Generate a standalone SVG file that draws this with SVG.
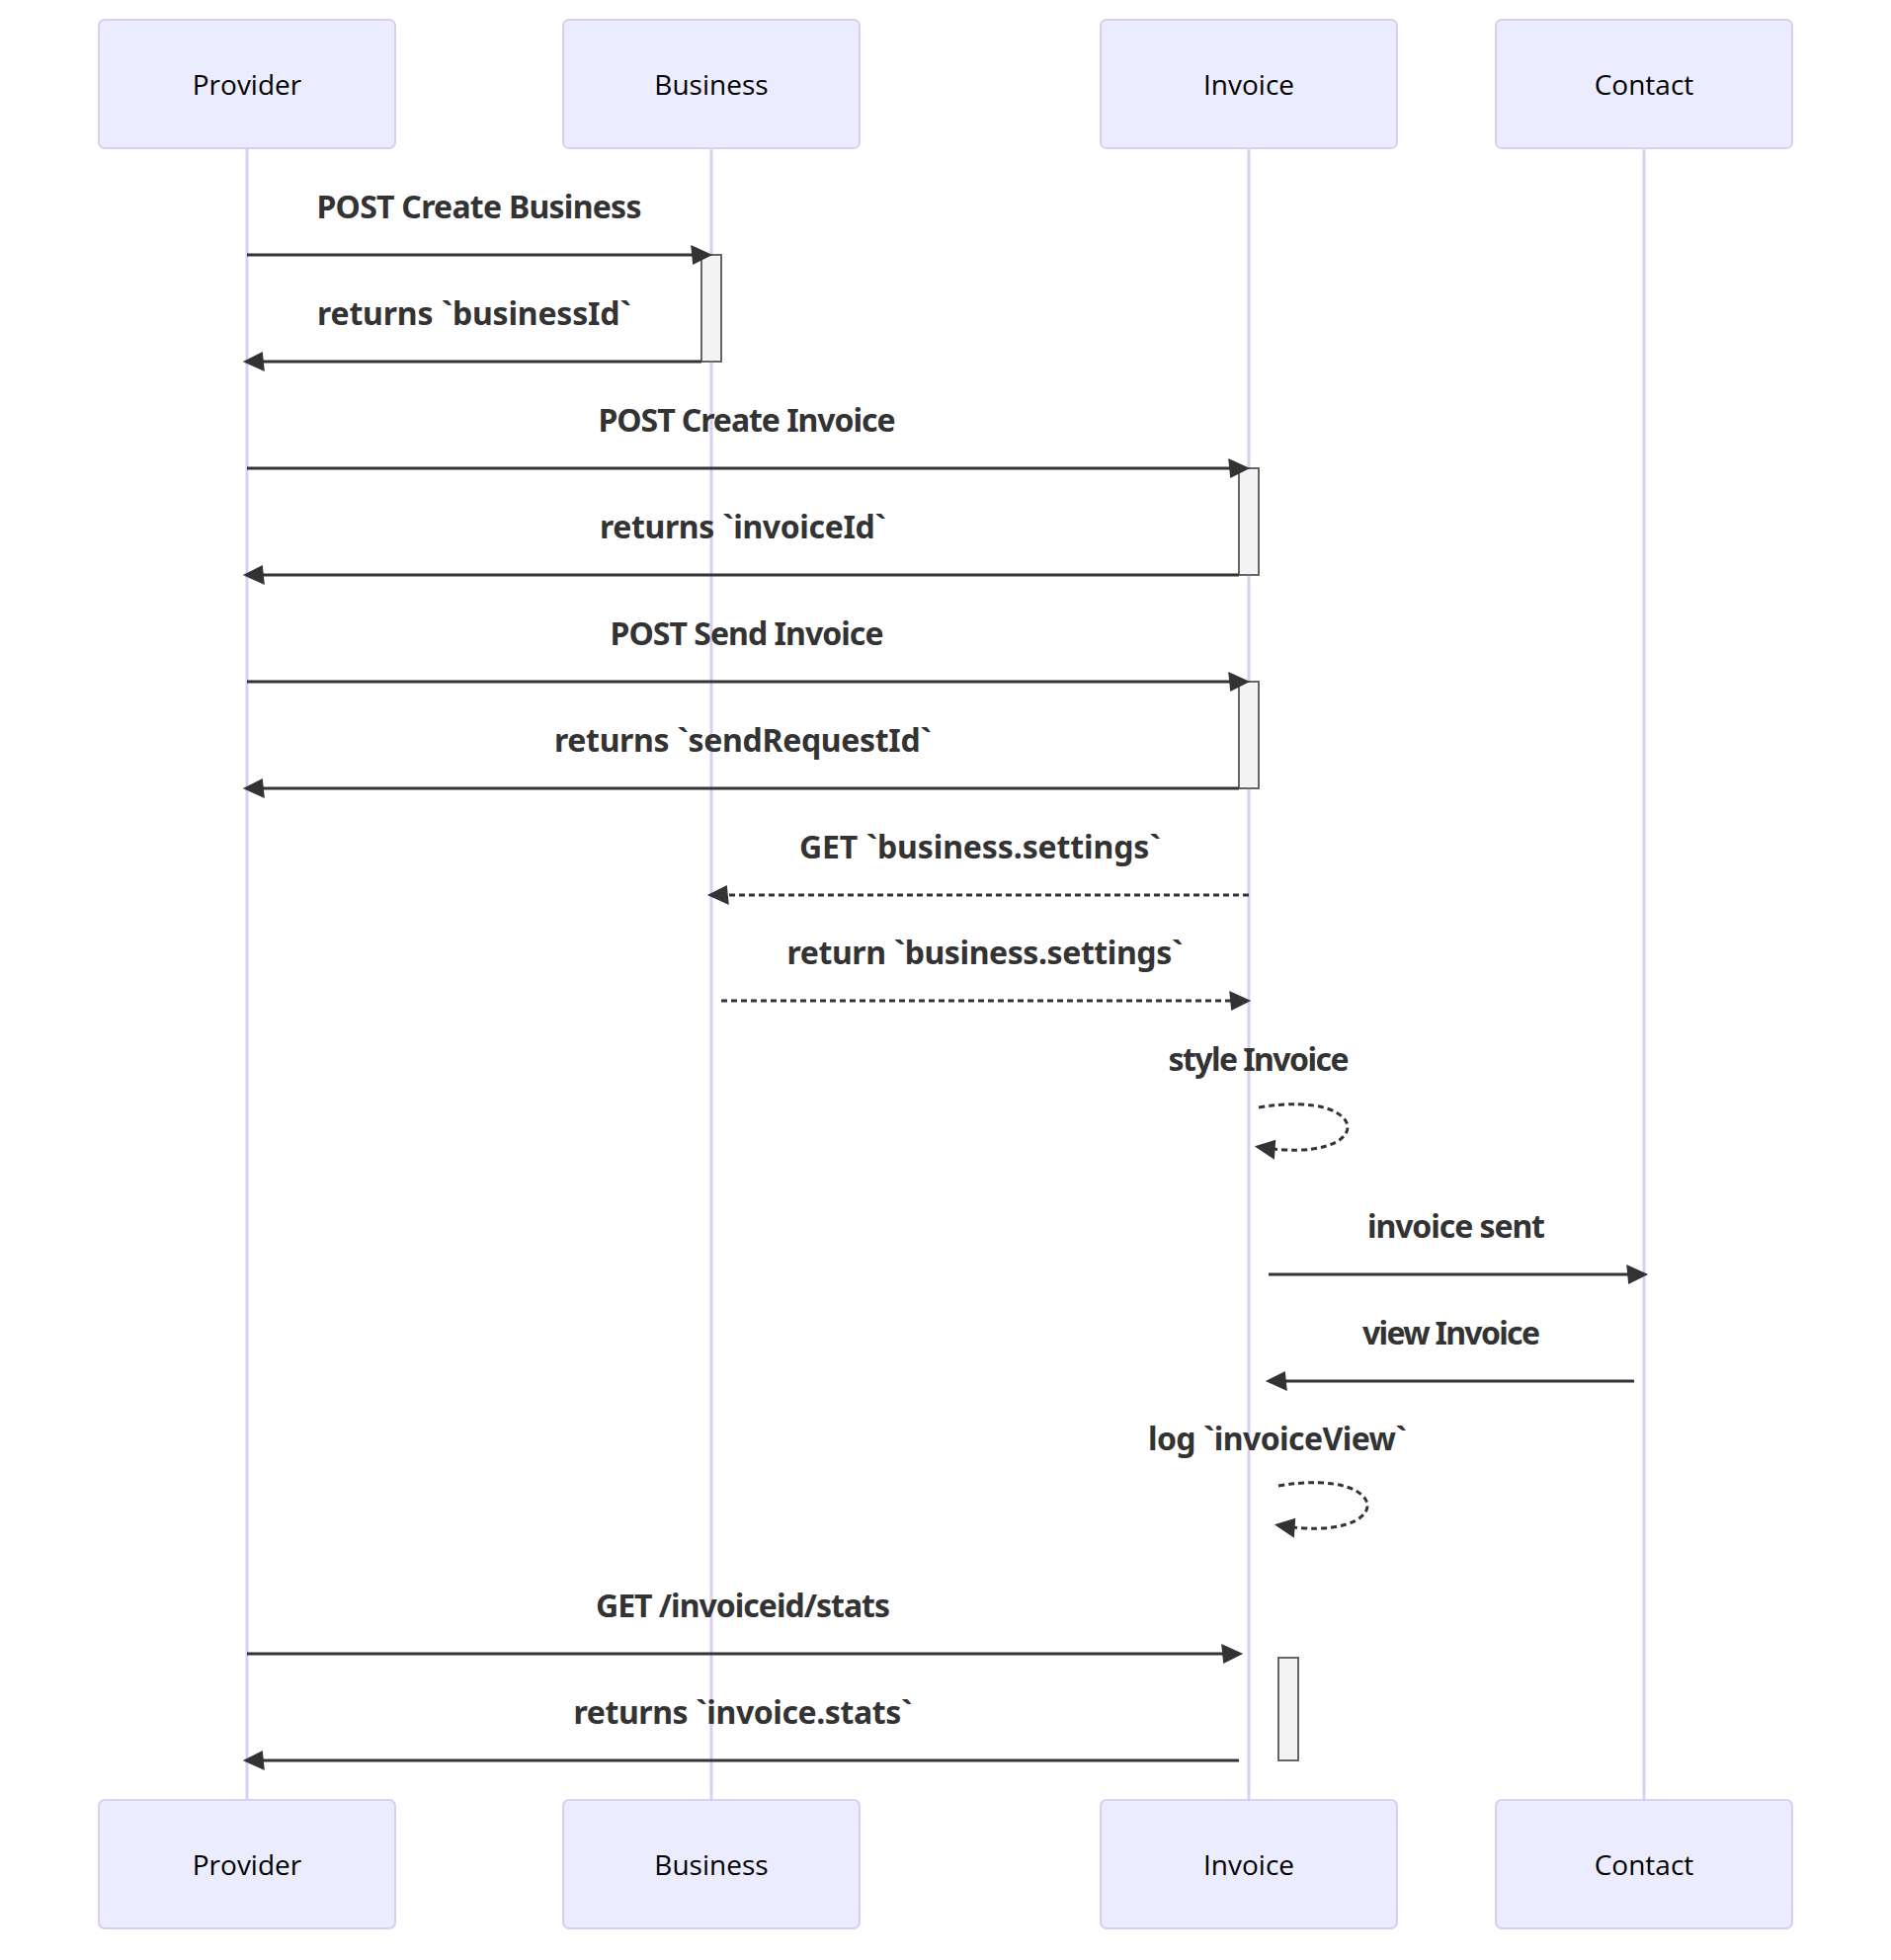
<svg xmlns="http://www.w3.org/2000/svg" width="1914" height="1984" viewBox="0 0 1914 1984">
<defs>
<marker id="arrow" markerUnits="userSpaceOnUse" markerWidth="24" markerHeight="24" refX="15.8" refY="10" orient="auto" overflow="visible">
<path d="M -2 0 L 20 10 L 0 20 z" fill="#333333"/>
</marker>
<style>
.actor{fill:#ECECFF;stroke:#DACEF3;stroke-width:2}
.actorText{font-family:"Open Sans","Noto Sans",sans-serif;font-size:28px;fill:#000;text-anchor:middle;dominant-baseline:central}
.lifeline{stroke:#DACEF3;stroke-width:3}
.msg{stroke:#333333;stroke-width:3;fill:none;marker-end:url(#arrow)}
.dotted{stroke-dasharray:6,4}
.label{font-family:"Noto Sans","Open Sans",sans-serif;font-size:32px;font-weight:bold;fill:#333333;text-anchor:middle}
.act{fill:#F4F4F4;stroke:#666666;stroke-width:2}
</style>
</defs>
<rect width="1914" height="1984" fill="#ffffff"/>
<g id="lifelines">
<line class="lifeline" x1="250" y1="150" x2="250" y2="1822"/>
<line class="lifeline" x1="720" y1="150" x2="720" y2="1822"/>
<line class="lifeline" x1="1264" y1="150" x2="1264" y2="1822"/>
<line class="lifeline" x1="1664" y1="150" x2="1664" y2="1822"/>
</g>
<g id="actor-provider">
<rect class="actor" x="100" y="20" width="300" height="130" rx="6"/>
<text class="actorText" x="250" y="85">Provider</text>
<rect class="actor" x="100" y="1822" width="300" height="130" rx="6"/>
<text class="actorText" x="250" y="1887">Provider</text>
</g>
<g id="actor-business">
<rect class="actor" x="570" y="20" width="300" height="130" rx="6"/>
<text class="actorText" x="720" y="85">Business</text>
<rect class="actor" x="570" y="1822" width="300" height="130" rx="6"/>
<text class="actorText" x="720" y="1887">Business</text>
</g>
<g id="actor-invoice">
<rect class="actor" x="1114" y="20" width="300" height="130" rx="6"/>
<text class="actorText" x="1264" y="85">Invoice</text>
<rect class="actor" x="1114" y="1822" width="300" height="130" rx="6"/>
<text class="actorText" x="1264" y="1887">Invoice</text>
</g>
<g id="actor-contact">
<rect class="actor" x="1514" y="20" width="300" height="130" rx="6"/>
<text class="actorText" x="1664" y="85">Contact</text>
<rect class="actor" x="1514" y="1822" width="300" height="130" rx="6"/>
<text class="actorText" x="1664" y="1887">Contact</text>
</g>
<g id="activations">
<rect class="act" x="710" y="258" width="20" height="108"/>
<rect class="act" x="1254" y="474" width="20" height="108"/>
<rect class="act" x="1254" y="690" width="20" height="108"/>
<rect class="act" x="1294" y="1678" width="20" height="104"/>
</g>
<g id="connectors">
<line class="msg" x1="250" y1="258" x2="717" y2="258"/>
<line class="msg" x1="710" y1="366" x2="250" y2="366"/>
<line class="msg" x1="250" y1="474" x2="1261" y2="474"/>
<line class="msg" x1="1254" y1="582" x2="250" y2="582"/>
<line class="msg" x1="250" y1="690" x2="1261" y2="690"/>
<line class="msg" x1="1254" y1="798" x2="250" y2="798"/>
<line class="msg dotted" x1="1264" y1="906" x2="720" y2="906"/>
<line class="msg dotted" x1="730" y1="1013" x2="1262" y2="1013"/>
<path class="msg dotted" d="M 1274 1121 C 1394 1101, 1394 1181, 1274 1161"/>
<line class="msg" x1="1284" y1="1290" x2="1664" y2="1290"/>
<line class="msg" x1="1654" y1="1398" x2="1285" y2="1398"/>
<path class="msg dotted" d="M 1294 1504 C 1414 1484, 1414 1564, 1294 1544"/>
<line class="msg" x1="250" y1="1674" x2="1254" y2="1674"/>
<line class="msg" x1="1254" y1="1782" x2="250" y2="1782"/>
</g>
<g id="labels">
<text class="label" x="485" y="221" textLength="329" lengthAdjust="spacing">POST Create Business</text>
<text class="label" x="480" y="329" textLength="318" lengthAdjust="spacing">returns `businessId`</text>
<text class="label" x="756" y="437" textLength="301" lengthAdjust="spacing">POST Create Invoice</text>
<text class="label" x="752" y="545" textLength="290" lengthAdjust="spacing">returns `invoiceId`</text>
<text class="label" x="756" y="653" textLength="277" lengthAdjust="spacing">POST Send Invoice</text>
<text class="label" x="752" y="761" textLength="382" lengthAdjust="spacing">returns `sendRequestId`</text>
<text class="label" x="992" y="869" textLength="366" lengthAdjust="spacing">GET `business.settings`</text>
<text class="label" x="997" y="976" textLength="401" lengthAdjust="spacing">return `business.settings`</text>
<text class="label" x="1274" y="1084" textLength="183" lengthAdjust="spacing">style Invoice</text>
<text class="label" x="1474" y="1253" textLength="180" lengthAdjust="spacing">invoice sent</text>
<text class="label" x="1469" y="1361" textLength="180" lengthAdjust="spacing">view Invoice</text>
<text class="label" x="1293" y="1468" textLength="262" lengthAdjust="spacing">log `invoiceView`</text>
<text class="label" x="752" y="1637" textLength="298" lengthAdjust="spacing">GET /invoiceid/stats</text>
<text class="label" x="752" y="1745" textLength="343" lengthAdjust="spacing">returns `invoice.stats`</text>
</g>
</svg>
